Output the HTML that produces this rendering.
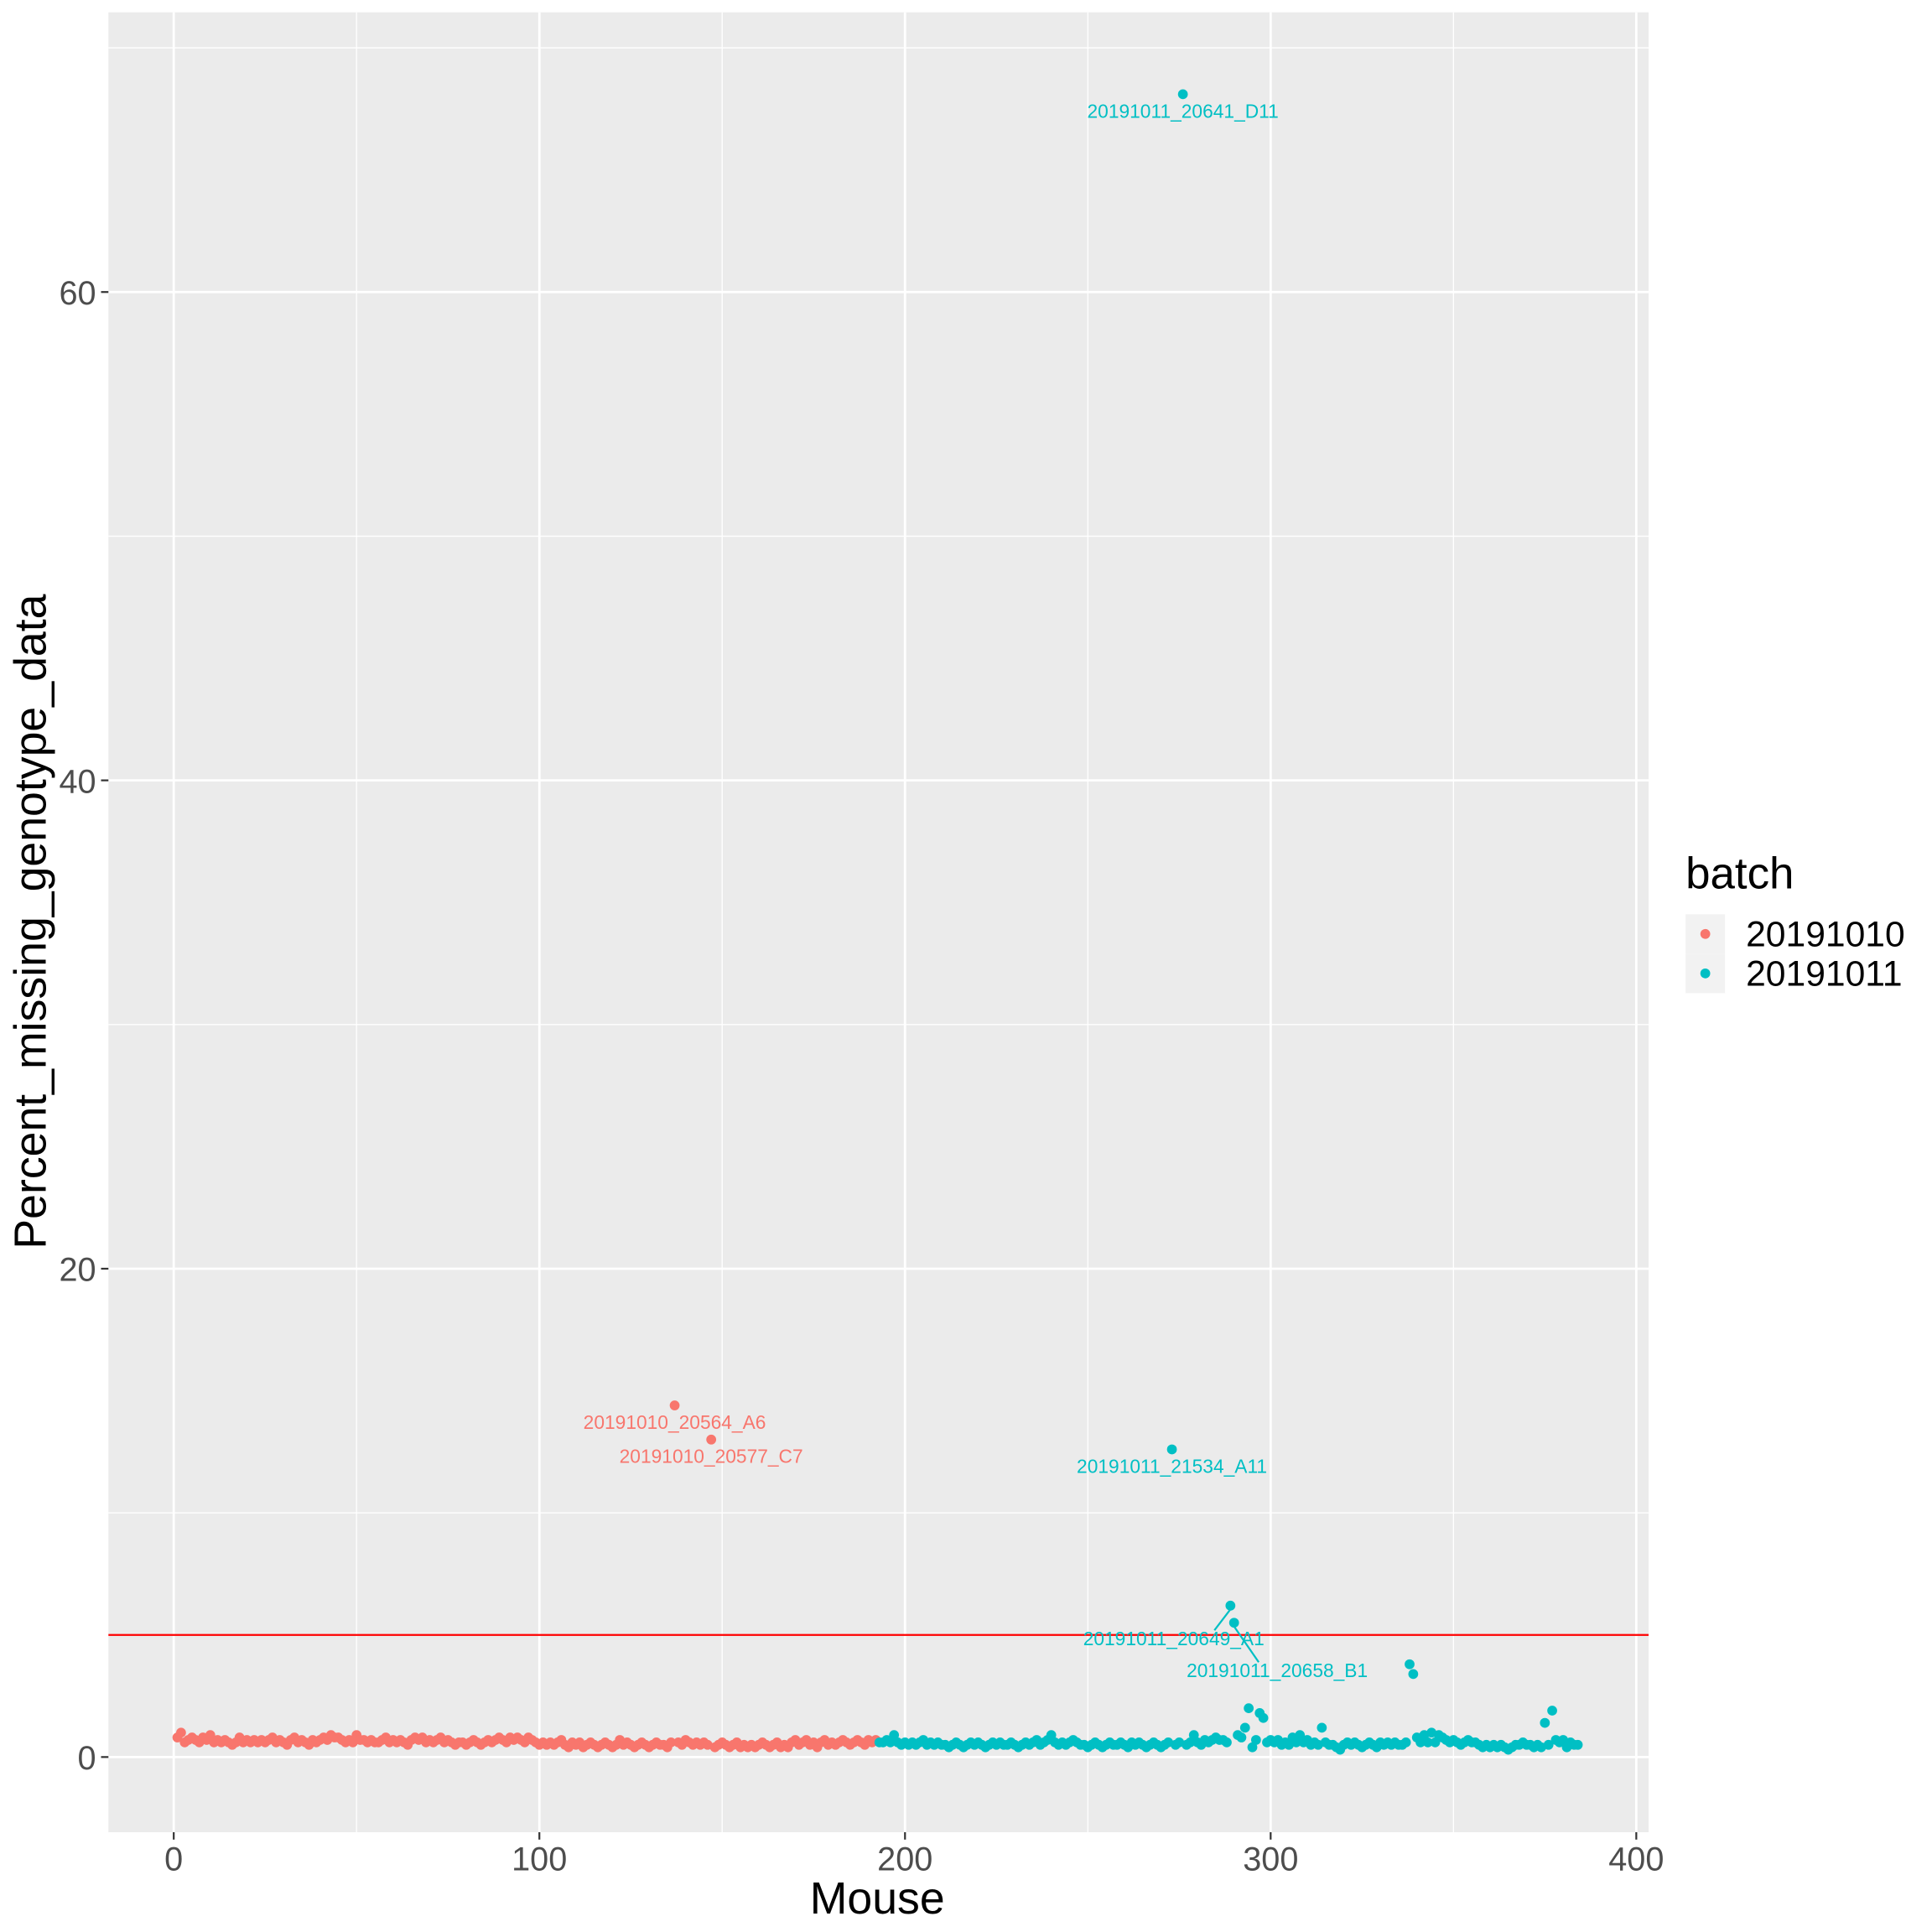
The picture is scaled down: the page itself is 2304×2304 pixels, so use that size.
<!DOCTYPE html>
<html><head><meta charset="utf-8"><style>
html,body{margin:0;padding:0;background:#fff}
svg{display:block;font-family:"Liberation Sans",sans-serif}
</style></head><body>
<svg id="chart" width="2304" height="2304" viewBox="0 0 1568 1568" xmlns="http://www.w3.org/2000/svg">
<rect x="0" y="0" width="1568" height="1568" fill="#fff"/>
<rect x="88" y="10" width="1250" height="1477" fill="#ebebeb"/>
<g id="grid"></g>
<g id="marks"></g>
<g id="axes"></g>
<text x="712" y="1553" font-size="36.5" text-anchor="middle" fill="#000">Mouse</text>
<text transform="translate(37,748) rotate(-90)" font-size="36.5" text-anchor="middle" fill="#000">Percent_missing_genotype_data</text>
<g>
<text x="1368" y="721" font-size="36" fill="#000">batch</text>
<rect x="1368" y="742" width="32" height="32" fill="#f2f2f2"/>
<rect x="1368" y="774" width="32" height="32" fill="#f2f2f2"/>
<circle cx="1384" cy="758" r="4" fill="#F8766D"/>
<circle cx="1384" cy="790" r="4" fill="#00BFC4"/>
<text x="1417" y="768" font-size="29" fill="#000">20191010</text>
<text x="1417" y="800" font-size="29" fill="#000">20191011</text>
</g>
</svg>
<script>
const xTicks=[0,100,200,300,400];
const xMinor=[50,150,250,350];
const yTicks=[0,20,40,60];
const yMinor=[10,30,50,70];
const threshold=5;
const redValues=[0.8,1.0,0.6,0.7,0.8,0.7,0.6,0.8,0.7,0.9,0.6,0.7,0.6,0.7,0.6,0.5,0.6,0.8,0.6,0.7,
0.6,0.7,0.6,0.7,0.6,0.7,0.8,0.6,0.7,0.6,0.5,0.7,0.8,0.6,0.7,0.6,0.5,0.7,0.6,0.7,
0.8,0.7,0.9,0.8,0.8,0.7,0.6,0.7,0.6,0.9,0.7,0.7,0.6,0.7,0.6,0.6,0.7,0.8,0.6,0.7,
0.6,0.7,0.6,0.5,0.7,0.8,0.7,0.8,0.6,0.7,0.6,0.7,0.8,0.6,0.7,0.6,0.5,0.6,0.6,0.5,
0.6,0.7,0.6,0.5,0.6,0.7,0.6,0.7,0.8,0.7,0.6,0.8,0.7,0.8,0.7,0.6,0.8,0.7,0.6,0.5,
0.6,0.5,0.6,0.5,0.6,0.7,0.5,0.4,0.6,0.5,0.6,0.4,0.5,0.6,0.5,0.4,0.5,0.6,0.5,0.4,
0.5,0.7,0.5,0.6,0.5,0.4,0.5,0.6,0.5,0.4,0.5,0.6,0.5,0.5,0.4,0.6,14.4,0.6,0.5,0.7,
0.6,0.5,0.6,0.5,0.6,0.5,13.0,0.4,0.5,0.6,0.5,0.4,0.5,0.6,0.4,0.5,0.4,0.5,0.4,0.5,
0.6,0.5,0.4,0.5,0.6,0.4,0.5,0.4,0.6,0.7,0.5,0.6,0.7,0.5,0.6,0.4,0.6,0.7,0.5,0.6,
0.5,0.6,0.7,0.6,0.5,0.6,0.7,0.6,0.5,0.7,0.6,0.7];
const blueValues=[0.6,0.6,0.7,0.6,0.9,0.6,0.5,0.6,0.5,0.6,0.5,0.6,0.7,0.5,0.6,0.5,0.6,0.5,0.5,0.4,
0.5,0.6,0.5,0.4,0.5,0.6,0.5,0.6,0.5,0.4,0.5,0.6,0.5,0.6,0.5,0.5,0.6,0.5,0.4,0.5,
0.6,0.5,0.6,0.7,0.5,0.6,0.7,0.9,0.6,0.5,0.6,0.5,0.6,0.7,0.6,0.5,0.5,0.4,0.5,0.6,
0.5,0.4,0.5,0.6,0.5,0.5,0.6,0.5,0.4,0.6,0.5,0.6,0.5,0.4,0.5,0.6,0.5,0.4,0.5,0.6,
12.6,0.5,0.6,68.1,0.5,0.6,0.9,0.6,0.5,0.7,0.6,0.7,0.8,0.7,0.7,0.6,6.2,5.5,0.9,0.8,
1.2,2.0,0.4,0.7,1.8,1.6,0.6,0.7,0.6,0.7,0.5,0.6,0.5,0.8,0.6,0.9,0.6,0.7,0.5,0.6,
0.5,1.2,0.6,0.5,0.5,0.4,0.3,0.5,0.6,0.5,0.6,0.5,0.4,0.5,0.6,0.5,0.4,0.6,0.5,0.6,
0.5,0.6,0.5,0.5,0.6,3.8,3.4,0.8,0.6,0.9,0.6,1.0,0.6,0.9,0.8,0.7,0.6,0.7,0.6,0.5,
0.6,0.7,0.6,0.6,0.5,0.4,0.5,0.4,0.5,0.4,0.5,0.4,0.3,0.4,0.5,0.5,0.6,0.5,0.5,0.4,
0.5,0.4,1.4,0.5,1.9,0.7,0.6,0.7,0.4,0.6,0.5,0.5];
const labelMice=[137,147,276,273,289,290];
const labelTexts=["20191010_20564_A6","20191010_20577_C7","20191011_20641_D11","20191011_21534_A11","20191011_20649_A1","20191011_20658_B1"];
const labelDX=[0,0,0,0,-46,35];
const labelDY=[19,19,19,19,32,44];

const NS="http://www.w3.org/2000/svg";
const X=v=>141+v*(1328-141)/400;
const Y=v=>1426-v*(1426-237)/60;
const L=88,R=1338,T=10,B=1487;
function mk(tag,attrs,parent){const e=document.createElementNS(NS,tag);for(const k in attrs)e.setAttribute(k,attrs[k]);parent.appendChild(e);return e;}
const grid=document.getElementById('grid'),marks=document.getElementById('marks'),axes=document.getElementById('axes');
xMinor.forEach(v=>{const e=mk('line',{x1:X(v),x2:X(v),y1:T,y2:B,stroke:'#fff','stroke-width':0.9},grid);

});
yMinor.forEach(v=>{const e=mk('line',{x1:L,x2:R,y1:Y(v),y2:Y(v),stroke:'#fff','stroke-width':0.9},grid);

});
xTicks.forEach(v=>{const e=mk('line',{x1:X(v),x2:X(v),y1:T,y2:B,stroke:'#fff','stroke-width':1.9},grid);


const t=mk('line',{x1:X(v),x2:X(v),y1:B,y2:B+6,stroke:'#333','stroke-width':1.5},axes);


const l=mk('text',{x:X(v),y:B+31,'font-size':27,'text-anchor':'middle',fill:'#4d4d4d'},axes);l.textContent=v;

});
yTicks.forEach(v=>{const e=mk('line',{x1:L,x2:R,y1:Y(v),y2:Y(v),stroke:'#fff','stroke-width':1.9},grid);


const t=mk('line',{x1:L-6,x2:L,y1:Y(v),y2:Y(v),stroke:'#333','stroke-width':1.5},axes);


const l=mk('text',{x:L-10,y:Y(v)+10,'font-size':27,'text-anchor':'end',fill:'#4d4d4d'},axes);l.textContent=v;

});
redValues.forEach((v,i)=>{const c=mk('circle',{cx:X(i+1),cy:Y(v),r:4,fill:'#F8766D'},marks);

});
blueValues.forEach((v,i)=>{const c=mk('circle',{cx:X(i+193),cy:Y(v),r:4,fill:'#00BFC4'},marks);

});
const h=mk('line',{x1:L,x2:R,y1:Y(threshold),y2:Y(threshold),stroke:'#ff0000','stroke-width':1.5},marks);


labelMice.forEach((m,i)=>{const v=m<=192?redValues[m-1]:blueValues[m-193];const col=m<=192?'#F8766D':'#00BFC4';
const tx=X(m)+labelDX[i],ty=Y(v)+labelDY[i];
if(labelDX[i]!==0){const s=mk('line',{x1:X(m),y1:Y(v)+3,x2:tx+(labelDX[i]<0?33:-15),y2:ty-12,stroke:col,'stroke-width':1.5},marks);

}
const t=mk('text',{x:tx,y:ty,'font-size':15.5,'text-anchor':'middle',fill:col},marks);t.textContent=labelTexts[i];

});
</script>
</body></html>
